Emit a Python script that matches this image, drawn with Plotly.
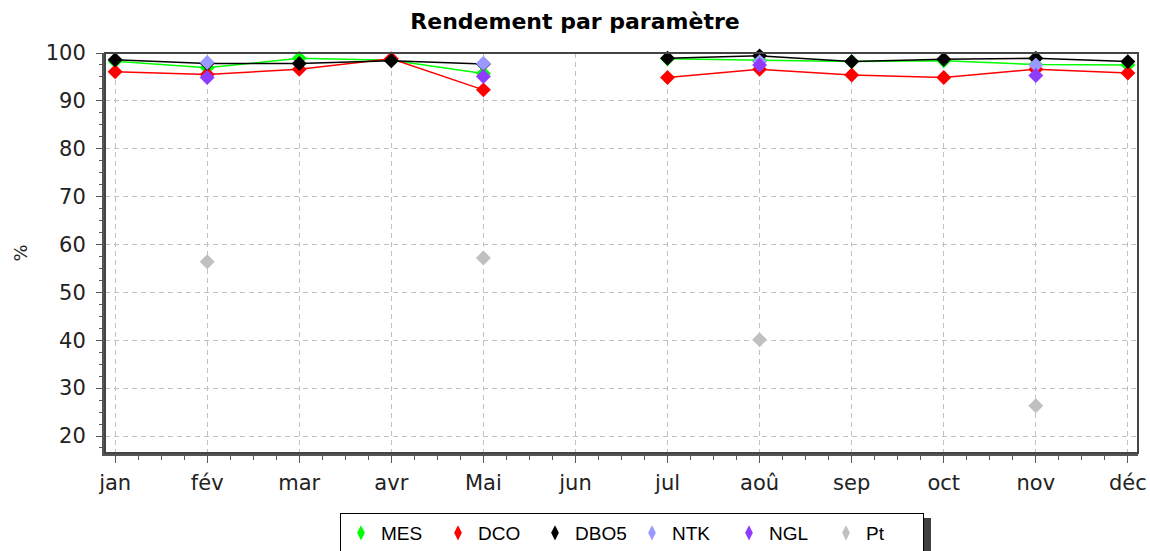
import plotly.graph_objects as go

months = ["jan", "fév", "mar", "avr", "Mai", "jun", "jul", "aoû", "sep", "oct", "nov", "déc"]
MES = [98.3, 96.9, 98.9, 98.5, 95.7, None, 98.8, 98.5, 98.2, 98.4, 97.6, 97.5]
DCO = [96.1, 95.5, 96.6, 98.8, 92.3, None, 94.9, 96.6, 95.4, 94.9, 96.6, 95.8]
DBO5 = [98.6, 97.8, 97.8, 98.4, 97.7, None, 98.9, 99.4, 98.2, 98.7, 98.9, 98.2]
NTK = [None, 98.0, None, None, 97.8, None, None, 98.2, None, None, 97.5, None]
NGL = [None, 94.9, None, None, 95.1, None, None, 97.5, None, None, 95.3, None]
Pt = [None, 56.4, None, None, 57.2, None, None, 40.1, None, None, 26.3, None]

series = [
    ("MES", MES, "#00ff00"),
    ("DCO", DCO, "#ff0000"),
    ("DBO5", DBO5, "#000000"),
    ("NTK", NTK, "#9999ff"),
    ("NGL", NGL, "#8f3cff"),
    ("Pt", Pt, "#c0c0c0"),
]

x_idx = list(range(len(months)))

fig = go.Figure()
for name, vals, col in series:
    fig.add_trace(go.Scatter(
        x=x_idx, y=vals, name=name, mode="lines+markers",
        line=dict(color=col, width=1.5),
        marker=dict(symbol="diamond", size=11.5, color=col),
        connectgaps=False, cliponaxis=False, showlegend=False,
    ))
# legend entries (marker only, small)
for name, vals, col in series:
    fig.add_trace(go.Scatter(
        x=[None], y=[None], name=name, mode="markers",
        marker=dict(symbol="diamond-tall", size=11, color=col),
        showlegend=True,
    ))

W, H = 1150, 551
L, T = 105, 53
R = W - 1138
B = H - 453
pw, ph = W - L - R, H - T - B

def px_x(px):
    return (px - L) / pw

def px_y(py):
    return (H - B - py) / ph

fig.update_layout(
    width=W, height=H,
    margin=dict(l=L, r=R, t=T, b=B, autoexpand=False),
    paper_bgcolor="white", plot_bgcolor="white",
    title=dict(text="<b>Rendement par paramètre</b>", x=0.5, xanchor="center",
               y=1 - 21 / H, yanchor="middle", yref="container",
               font=dict(family="DejaVu Sans", size=22, color="#000000")),
    font=dict(family="DejaVu Sans", color="#333333"),
    showlegend=True,
    legend=dict(orientation="h", x=px_x(340), xanchor="left", y=px_y(513), yanchor="top",
                bgcolor="white", bordercolor="#000000", borderwidth=1,
                font=dict(family="Liberation Sans", size=19, color="#000000"),
                entrywidth=52, entrywidthmode="pixels", itemclick=False),
    xaxis=dict(
        range=[-0.11, 11.11], tickmode="array", tickvals=x_idx, ticktext=months,
        showgrid=True, gridcolor="#c0c0c0", griddash="5px,4px", gridwidth=1,
        zeroline=False, showline=True, linecolor="#555555", linewidth=3,
        ticks="outside", ticklen=7, tickwidth=1, tickcolor="#555555",
        tickfont=dict(family="DejaVu Sans", size=21, color="#222222"),
        ticklabelstandoff=2,
        minor=dict(dtick=0.25, tick0=0, ticks="outside", ticklen=4, tickcolor="#555555", showgrid=False),
    ),
    yaxis=dict(
        range=[16.45, 100], tickmode="linear", tick0=20, dtick=10,
        showgrid=True, gridcolor="#c0c0c0", griddash="5px,4px", gridwidth=1,
        zeroline=False, showline=True, linecolor="#555555", linewidth=3,
        ticks="outside", ticklen=6, tickwidth=1, tickcolor="#555555",
        tickfont=dict(family="DejaVu Sans", size=21, color="#222222"),
        ticklabelstandoff=6,
        title=dict(text="%", standoff=14, font=dict(family="DejaVu Sans", size=18, color="#222222")),
        minor=dict(dtick=2.5, tick0=0, ticks="outside", ticklen=3, tickcolor="#555555", showgrid=False),
    ),
    shapes=[
        dict(type="rect", xref="paper", yref="paper", x0=0, x1=1, y0=0, y1=1,
             line=dict(color="#444444", width=2), fillcolor="rgba(0,0,0,0)", layer="above"),
        dict(type="rect", xref="paper", yref="paper", x0=px_x(344), x1=px_x(931),
             y0=px_y(553), y1=px_y(518), line=dict(width=0), fillcolor="#404040", layer="below"),
    ],
)

fig.write_html(
    "out.html",
    config={"displayModeBar": False, "staticPlot": True},
    post_script="document.body.style.margin='0';document.documentElement.style.overflow='hidden';document.body.style.overflow='hidden';",
)
